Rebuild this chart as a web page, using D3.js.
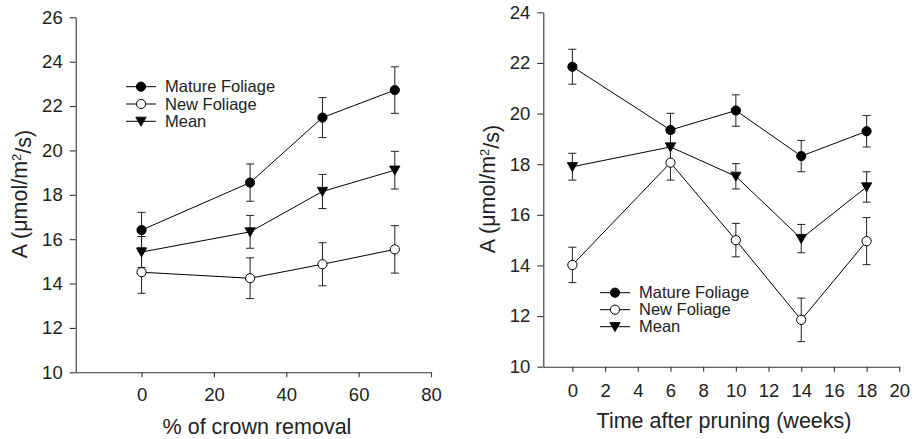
<!DOCTYPE html>
<html><head><meta charset="utf-8">
<script src="https://cdn.jsdelivr.net/npm/d3@7"></script>
<style>
body{margin:0;background:#fff;}
svg{display:block;font-family:"Liberation Sans",Arial,Helvetica,sans-serif;}
</style></head><body>
<svg id="c" width="916" height="439"></svg>
<script>
// Left panel: % of crown removal
const crownX = [0, 30, 50, 70];
const crownMature = [16.41, 18.55, 21.48, 22.72];
const crownMatureErr = [0.8, 0.84, 0.9, 1.05];
const crownNew = [14.51, 14.24, 14.87, 15.54];
const crownNewErr = [0.95, 0.92, 0.97, 1.07];
const crownMean = [15.42, 16.33, 18.15, 19.11];
const crownMeanErr = [0.7, 0.74, 0.77, 0.85];
const crownXTicks = [0, 20, 40, 60, 80];
const crownYTicks = [10, 12, 14, 16, 18, 20, 22, 24, 26];

// Right panel: time after pruning
const weeksX = [0, 6, 10, 14, 18];
const weeksMature = [21.85, 19.35, 20.12, 18.32, 19.3];
const weeksMatureErr = [0.69, 0.66, 0.62, 0.62, 0.62];
const weeksNew = [14.02, 18.06, 15.0, 11.85, 14.96];
const weeksNewErr = [0.7, 0.69, 0.66, 0.86, 0.93];
const weeksMean = [17.9, 18.68, 17.52, 15.06, 17.1];
const weeksMeanErr = [0.53, 0.55, 0.5, 0.56, 0.6];
const weeksXTicks = [0, 2, 4, 6, 8, 10, 12, 14, 16, 18, 20];
const weeksYTicks = [10, 12, 14, 16, 18, 20, 22, 24];

const seriesNames = ["Mature Foliage", "New Foliage", "Mean"];
const seriesStyle = ["filled", "open", "triangle"];

const svg = d3.select("#c");
const TXT = "#222";

function marker(g, type, x, y) {
  if (type === "triangle") {
    const s = 5.2;
    g.append("path")
      .attr("d", `M${x - s},${y - s * 0.8}L${x + s},${y - s * 0.8}L${x},${y + s * 0.95}Z`)
      .attr("fill", "#000").attr("stroke", "#000").attr("stroke-width", 0.8);
  } else {
    g.append("circle").attr("cx", x).attr("cy", y).attr("r", 4.6)
      .attr("fill", type === "filled" ? "#000" : "#fff")
      .attr("stroke", "#000").attr("stroke-width", 1);
  }
}

function panel(cfg) {
  const g = svg.append("g");
  const x = d3.scaleLinear().domain(cfg.xDomain).range(cfg.xRange);
  const y = d3.scaleLinear().domain(cfg.yDomain).range(cfg.yRange);

  const xa = g.append("g").attr("transform", `translate(0,${cfg.yRange[0]})`)
    .call(d3.axisBottom(x).tickValues(cfg.xTicks).tickSizeInner(5).tickSizeOuter(0).tickPadding(cfg.xPad));
  const ya = g.append("g").attr("transform", `translate(${cfg.xRange[0]},0)`)
    .call(d3.axisLeft(y).tickValues(cfg.yTicks).tickSizeInner(6).tickSizeOuter(0).tickPadding(7));
  [xa, ya].forEach(a => {
    a.selectAll("path,line").attr("stroke", "#333").attr("stroke-width", 1.1);
    a.selectAll("text").attr("fill", TXT).style("font-size", "18.5px");
  });

  const series = [
    {v: cfg.mature, e: cfg.matureErr, t: "filled"},
    {v: cfg.newF, e: cfg.newErr, t: "open"},
    {v: cfg.mean, e: cfg.meanErr, t: "triangle"}
  ];
  const line = d3.line().x((d, i) => x(cfg.xs[i])).y(d => y(d));
  // error bars
  series.forEach(s => {
    s.v.forEach((v, i) => {
      const cx = x(cfg.xs[i]);
      const y1 = y(v + s.e[i]), y2 = y(v - s.e[i]);
      g.append("line").attr("x1", cx).attr("x2", cx).attr("y1", y1).attr("y2", y2)
        .attr("stroke", "#222").attr("stroke-width", 1);
      [y1, y2].forEach(yy => g.append("line").attr("x1", cx - 4).attr("x2", cx + 4)
        .attr("y1", yy).attr("y2", yy).attr("stroke", "#222").attr("stroke-width", 1));
    });
  });
  series.forEach(s => {
    g.append("path").attr("d", line(s.v)).attr("fill", "none")
      .attr("stroke", "#000").attr("stroke-width", 1);
  });
  series.forEach(s => {
    s.v.forEach((v, i) => marker(g, s.t, x(cfg.xs[i]), y(v)));
  });

  // legend
  seriesNames.forEach((n, i) => {
    const ly = cfg.legY + i * cfg.legStep;
    g.append("line").attr("x1", cfg.legX).attr("x2", cfg.legX + 30)
      .attr("y1", ly).attr("y2", ly).attr("stroke", "#000").attr("stroke-width", 1);
    marker(g, seriesStyle[i], cfg.legX + 15, ly);
    g.append("text").attr("x", cfg.legX + 39).attr("y", ly).attr("dy", "0.35em")
      .attr("fill", TXT).style("font-size", "16.5px").text(n);
  });

  // axis titles
  g.append("text").attr("x", cfg.xTitleX).attr("y", cfg.xTitleY).attr("text-anchor", "middle")
    .attr("fill", TXT).style("font-size", "21.5px").text(cfg.xTitle);
  const yt = g.append("text").attr("transform", `translate(${cfg.yTitleX},${cfg.yTitleY}) rotate(-90)`)
    .attr("text-anchor", "middle").attr("fill", TXT).style("font-size", "21.5px");
  yt.append("tspan").text("A (μmol/m");
  yt.append("tspan").attr("dy", "-0.45em").style("font-size", "13px").text("2");
  yt.append("tspan").attr("dy", "0.45em").text("/s)");
}

panel({
  xDomain: [-18.2, 80], xRange: [75.7, 431],
  yDomain: [10, 26], yRange: [372.3, 17.3],
  xTicks: crownXTicks, yTicks: crownYTicks, xPad: 11,
  xs: crownX,
  mature: crownMature, matureErr: crownMatureErr,
  newF: crownNew, newErr: crownNewErr,
  mean: crownMean, meanErr: crownMeanErr,
  legX: 126, legY: 86.7, legStep: 17.3,
  xTitle: "% of crown removal", xTitleX: 257, xTitleY: 434,
  yTitleX: 27, yTitleY: 194
});

panel({
  xDomain: [-1.78, 20], xRange: [543.3, 899.3],
  yDomain: [10, 24], yRange: [366.7, 12.3],
  xTicks: weeksXTicks, yTicks: weeksYTicks, xPad: 12,
  xs: weeksX,
  mature: weeksMature, matureErr: weeksMatureErr,
  newF: weeksNew, newErr: weeksNewErr,
  mean: weeksMean, meanErr: weeksMeanErr,
  legX: 600, legY: 292.7, legStep: 17,
  xTitle: "Time after pruning (weeks)", xTitleX: 724, xTitleY: 428,
  yTitleX: 495, yTitleY: 189
});
</script>
</body></html>
